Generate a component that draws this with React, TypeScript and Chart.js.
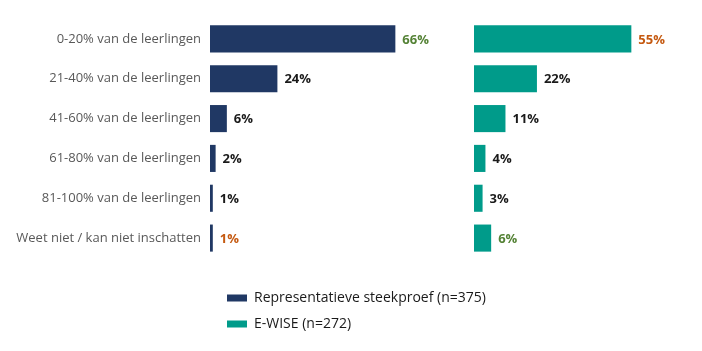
import React, { useEffect, useRef } from "react";
import { Chart, registerables } from "chart.js";

Chart.register(...registerables);

const categories = [
  "0-20% van de leerlingen",
  "21-40% van de leerlingen",
  "41-60% van de leerlingen",
  "61-80% van de leerlingen",
  "81-100% van de leerlingen",
  "Weet niet / kan niet inschatten",
];
const seriesNames = ["Representatieve steekproef (n=375)", "E-WISE (n=272)"];
const representatief = [66, 24, 6, 2, 1, 1];
const ewise = [55, 22, 11, 4, 3, 6];

const NAVY = "#203864";
const TEAL = "#009B8A";
const GREEN = "#548235";
const ORANGE = "#C55A11";
const DARK = "#1a1a1a";

const labelColors = [
  [GREEN, DARK, DARK, DARK, DARK, ORANGE],
  [ORANGE, DARK, DARK, DARK, DARK, GREEN],
];

const FONT = "'Open Sans', 'Noto Sans', sans-serif";

const valueLabels = {
  id: "valueLabels",
  afterDatasetsDraw(chart: any) {
    const ctx = chart.ctx;
    ctx.save();
    ctx.font = `bold 13px ${FONT}`;
    ctx.textBaseline = "middle";
    ctx.textAlign = "left";
    chart.data.datasets.forEach((ds: any, di: number) => {
      const meta = chart.getDatasetMeta(di);
      meta.data.forEach((el: any, i: number) => {
        ctx.fillStyle = labelColors[di][i];
        ctx.fillText(`${ds.data[i]}%`, el.x + 7, el.y + 1);
      });
    });
    ctx.restore();
  },
};

const listLegend = {
  id: "listLegend",
  afterDraw(chart: any) {
    const ctx = chart.ctx;
    const area = chart.chartArea;
    ctx.save();
    ctx.font = `14px ${FONT}`;
    ctx.textBaseline = "middle";
    ctx.textAlign = "left";
    chart.data.datasets.forEach((ds: any, di: number) => {
      const cy = area.bottom + 40 + di * 26;
      const x = area.left + 17;
      ctx.fillStyle = ds.backgroundColor;
      ctx.fillRect(x, cy - 3.5, 20, 7);
      ctx.fillStyle = DARK;
      ctx.fillText(ds.label, x + 27, cy);
    });
    ctx.restore();
  },
};

export default function App() {
  const ref = useRef<HTMLCanvasElement>(null);
  useEffect(() => {
    if (!ref.current) return;
    const hiddenX = (max: number, weight: number) => ({
      type: "linear" as const,
      position: "bottom" as const,
      stack: "panels",
      stackWeight: weight,
      min: 0,
      max,
      ticks: { display: false },
      grid: { display: false, drawTicks: false },
      border: { display: false },
    });
    const chart = new Chart(ref.current, {
      type: "bar",
      data: {
        labels: categories,
        datasets: [
          {
            label: seriesNames[0],
            data: representatief,
            backgroundColor: NAVY,
            xAxisID: "x1",
            grouped: false,
            categoryPercentage: 1,
            barPercentage: 0.68,
          },
          {
            label: seriesNames[1],
            data: ewise,
            backgroundColor: TEAL,
            xAxisID: "x2",
            grouped: false,
            categoryPercentage: 1,
            barPercentage: 0.68,
          },
        ],
      },
      options: {
        indexAxis: "y",
        animation: false,
        responsive: true,
        maintainAspectRatio: false,
        layout: { padding: { top: 11, bottom: 85, left: 0, right: 4 } },
        scales: {
          x1: hiddenX(94, 264),
          x2: hiddenX(75.5, 216),
          y: {
            type: "category",
            grid: { display: false, drawTicks: false },
            border: { display: false },
            ticks: {
              padding: 9,
              color: "#595959",
              font: { family: FONT, size: 13 },
            },
            afterFit: (scale: any) => {
              scale.width = 202;
              scale.paddingTop = 0;
              scale.paddingBottom = 0;
            },
          },
        },
        plugins: {
          legend: { display: false },
          tooltip: { enabled: false },
        },
      },
      plugins: [valueLabels, listLegend],
    });
    return () => chart.destroy();
  }, []);
  return (
    <div style={{ position: "relative", width: 686, height: 335 }}>
      <canvas ref={ref} />
    </div>
  );
}
